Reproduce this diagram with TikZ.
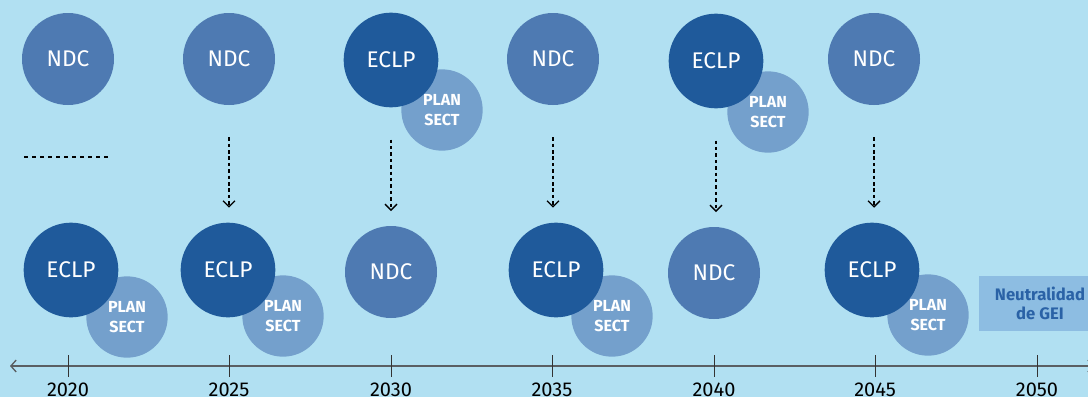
\documentclass[tikz,border=0pt]{standalone}
\usepackage{fontspec}
\setmainfont{Fira Sans}
\usepackage{tikz}
\usetikzlibrary{arrows.meta}
\definecolor{skyback}{HTML}{B1E0F2}
\definecolor{ndcblue}{HTML}{4E7AB2}
\definecolor{eclpblue}{HTML}{1F5A9B}
\definecolor{planblue}{HTML}{74A0CC}
\definecolor{goalbox}{HTML}{8DBDE2}
\definecolor{goaltext}{HTML}{2A62A6}
\definecolor{axisgray}{HTML}{5A5F63}
\tikzset{
  ndc/.style={circle, fill=ndcblue, text=white, minimum size=69pt, inner sep=0pt, font=\fontsize{17}{20}\selectfont},
  eclp/.style={circle, fill=eclpblue, text=white, minimum size=71pt, inner sep=0pt, font=\fontsize{17}{20}\selectfont},
  plansect/.style={circle, fill=planblue, text=white, minimum size=61pt, inner sep=0pt, align=center, font=\bfseries\fontsize{12}{14.5}\selectfont},
  yearlbl/.style={anchor=base, text=black, font=\fontsize{15}{18}\selectfont},
  flowarrow/.style={black, line width=1pt, dash pattern=on 2.6pt off 2.2pt, -{Straight Barb[length=4.5pt,width=9pt]}, shorten <=24pt, shorten >=11pt},
  tickmark/.style={black!80, line width=0.75pt},
  goal/.style={fill=goalbox, text=goaltext, minimum width=91.5pt, minimum height=41pt, inner sep=0pt, align=center, font=\bfseries\fontsize{12.5}{14.3}\selectfont}
}
\newcommand{\yeartick}[2]{\draw[tickmark] ( #1 , 355 ) -- ( #1 , 377 ); \node[yearlbl] (#2) at ( #1 , 396 ) {#2};}

\begin{document}
\begin{tikzpicture}[x=0.75pt, y=-0.75pt]
\fill[skyback] (0,0) rectangle (1088,397);
\useasboundingbox (0,0) rectangle (1088,397);
% top row
\node[ndc] (ndcTopA) at (68,59) {NDC};
\node[ndc] (ndcTopB) at (229,59) {NDC};
\node[plansect] (planTopC) at (442,110) {PLAN\\SECT};
\node[eclp] (eclpTopC) at (391,60) {ECLP};
\node[ndc] (ndcTopD) at (553,59) {NDC};
\node[plansect] (planTopE) at (768,112) {PLAN\\SECT};
\node[eclp] (eclpTopE) at (716,61) {ECLP};
\node[ndc] (ndcTopF) at (874,59) {NDC};
% bottom row
\node[plansect] (planBotA) at (127,317) {PLAN\\SECT};
\node[eclp] (eclpBotA) at (71,270) {ECLP};
\node[plansect] (planBotB) at (283,316) {PLAN\\SECT};
\node[eclp] (eclpBotB) at (228,270) {ECLP};
\node[ndc] (ndcBotC) at (391,272) {NDC};
\node[plansect] (planBotD) at (612,316) {PLAN\\SECT};
\node[eclp] (eclpBotD) at (556,270) {ECLP};
\node[ndc] (ndcBotE) at (714,273) {NDC};
\node[plansect] (planBotF) at (928,315) {PLAN\\SECT};
\node[eclp] (eclpBotF) at (872,270) {ECLP};
\node[goal] (neutral) at (1040,303.5) {Neutralidad\\de GEI};
% dotted line on the left
\coordinate (dotL) at (24,157);
\coordinate (dotR) at (109,157);
\draw[black, line width=1.3pt, dash pattern=on 3pt off 3pt] (dotL) -- (dotR);
% arrows top to bottom
\draw[flowarrow] (ndcTopB.south) -- (ndcTopB.south |- eclpBotB.north);
\draw[flowarrow] (eclpTopC.south) -- (eclpTopC.south |- ndcBotC.north);
\draw[flowarrow] (ndcTopD.south) -- (ndcTopD.south |- eclpBotD.north);
\draw[flowarrow] (eclpTopE.south) -- (eclpTopE.south |- ndcBotE.north);
\draw[flowarrow] (ndcTopF.south) -- (ndcTopF.south |- eclpBotF.north);
% time line
\coordinate (lineL) at (10,366);
\coordinate (lineR) at (1094,366);
\draw[axisgray, line width=1pt, {Straight Barb[length=4pt,width=9pt]}-{Straight Barb[length=4pt,width=9pt]}] (lineL) -- (lineR);
\yeartick{68}{2020}
\yeartick{229}{2025}
\yeartick{391}{2030}
\yeartick{552}{2035}
\yeartick{714}{2040}
\yeartick{875}{2045}
\yeartick{1037}{2050}
\end{tikzpicture}
\end{document}
